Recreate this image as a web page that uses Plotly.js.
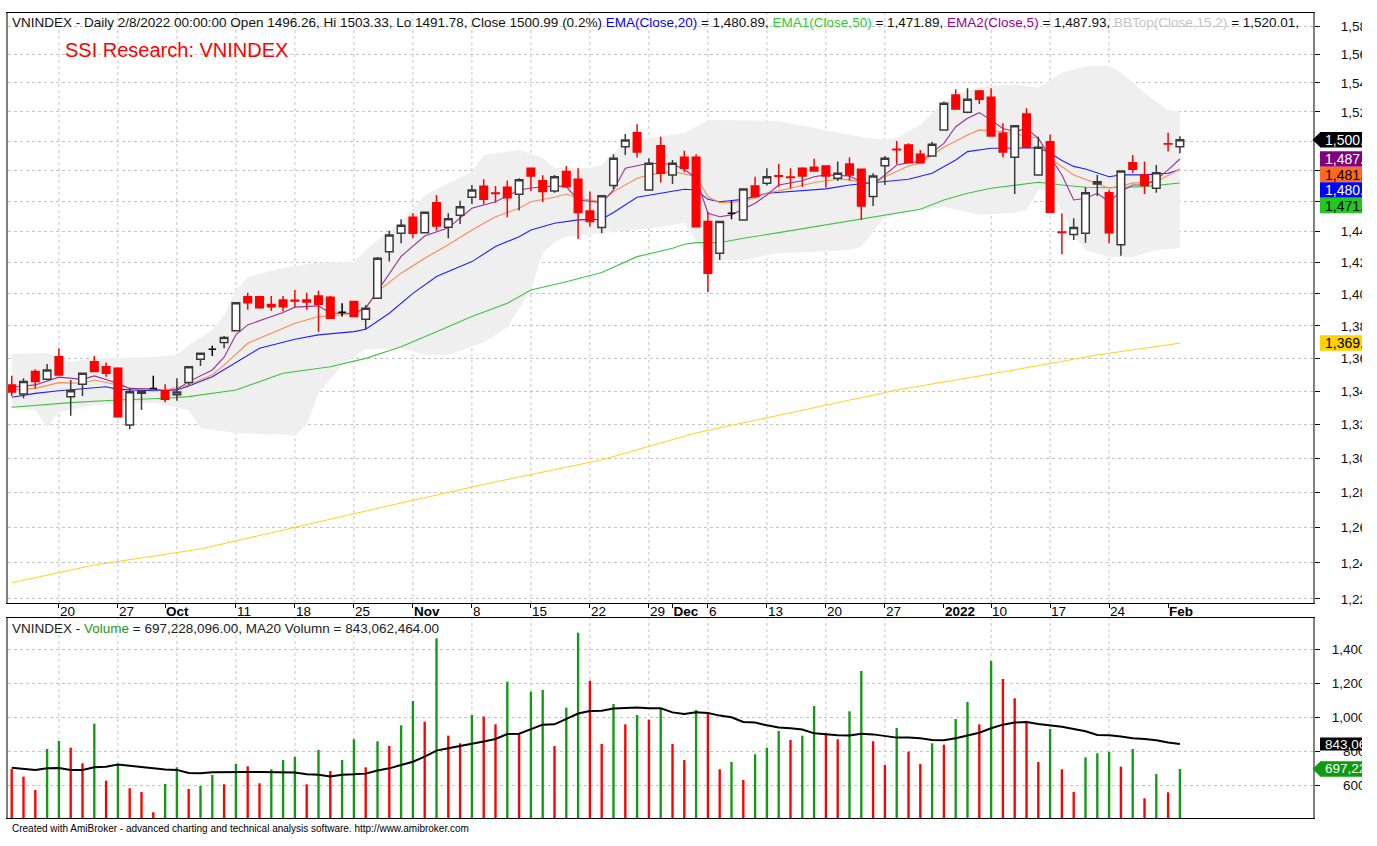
<!DOCTYPE html>
<html>
<head>
<meta charset="utf-8">
<script src="https://cdn.plot.ly/plotly-3.0.1.min.js"></script>
<style>
html,body{margin:0;padding:0;background:#ffffff;}
#chart{width:1362px;height:846px;}
</style>
</head>
<body>
<div id="chart"></div>
<script>
// ---------------- DATA ----------------
const dates = [
'2021-09-14','2021-09-15','2021-09-16','2021-09-17','2021-09-20','2021-09-21','2021-09-22','2021-09-23','2021-09-24','2021-09-27',
'2021-09-28','2021-09-29','2021-09-30','2021-10-01','2021-10-04','2021-10-05','2021-10-06','2021-10-07','2021-10-08','2021-10-11',
'2021-10-12','2021-10-13','2021-10-14','2021-10-15','2021-10-18','2021-10-19','2021-10-20','2021-10-21','2021-10-22','2021-10-25',
'2021-10-26','2021-10-27','2021-10-28','2021-10-29','2021-11-01','2021-11-02','2021-11-03','2021-11-04','2021-11-05','2021-11-08',
'2021-11-09','2021-11-10','2021-11-11','2021-11-12','2021-11-15','2021-11-16','2021-11-17','2021-11-18','2021-11-19','2021-11-22',
'2021-11-23','2021-11-24','2021-11-25','2021-11-26','2021-11-29','2021-11-30','2021-12-01','2021-12-02','2021-12-03','2021-12-06',
'2021-12-07','2021-12-08','2021-12-09','2021-12-10','2021-12-13','2021-12-14','2021-12-15','2021-12-16','2021-12-17','2021-12-20',
'2021-12-21','2021-12-22','2021-12-23','2021-12-24','2021-12-27','2021-12-28','2021-12-29','2021-12-30','2021-12-31','2022-01-04',
'2022-01-05','2022-01-06','2022-01-07','2022-01-10','2022-01-11','2022-01-12','2022-01-13','2022-01-14','2022-01-17','2022-01-18',
'2022-01-19','2022-01-20','2022-01-21','2022-01-24','2022-01-25','2022-01-26','2022-01-27','2022-01-28','2022-02-07','2022-02-08'
];

const open = [
1343.7,1338.2,1351.8,1347.1,1360.9,1336.6,1344.1,1357.9,1354.8,1353.8,
1319.6,1338.6,1341.6,1340.2,1337.8,1345.1,1359.3,1365.5,1369.6,1377.0,
1398.3,1398.3,1393.3,1396.2,1396.0,1396.2,1398.7,1397.9,1388.5,1395.2,
1384.1,1397.3,1427.0,1438.9,1449.4,1439.3,1458.9,1442.8,1450.7,1462.5,
1469.8,1465.3,1469.1,1464.4,1481.7,1473.4,1466.6,1479.5,1474.4,1453.5,
1442.6,1470.2,1496.2,1505.7,1467.3,1496.9,1477.3,1489.1,1489.1,1446.5,
1426.0,1452.0,1447.6,1470.0,1471.8,1476.8,1475.9,1481.7,1482.4,1483.3,
1475.1,1484.6,1481.1,1462.9,1483.5,1494.5,1497.4,1491.1,1490.0,1507.6,
1531.6,1519.7,1534.3,1530.0,1505.3,1489.1,1518.5,1477.3,1499.6,1439.7,
1438.1,1438.9,1471.3,1465.5,1431.4,1485.5,1477.3,1468.4,1498.3,1496.26
];
const high = [
1349.2,1347.7,1353.2,1356.5,1365.9,1346.7,1350.8,1361.4,1357.3,1354.5,
1341.6,1340.2,1349.2,1344.1,1347.7,1354.8,1363.0,1367.6,1373.7,1395.0,
1400.8,1398.5,1398.7,1398.7,1402.5,1400.8,1402.1,1398.7,1394.2,1395.5,
1393.1,1423.5,1440.6,1448.0,1452.0,1453.0,1464.0,1452.0,1460.2,1470.6,
1474.4,1470.0,1473.5,1475.1,1482.0,1477.1,1477.2,1483.3,1481.7,1466.2,
1463.7,1491.1,1504.8,1511.5,1488.5,1503.0,1487.3,1493.5,1491.1,1453.0,
1446.7,1460.0,1468.3,1476.1,1481.7,1484.6,1481.7,1482.4,1488.1,1483.5,
1486.2,1489.1,1481.3,1478.4,1490.0,1500.1,1498.5,1494.0,1499.6,1527.0,
1535.5,1536.2,1535.0,1536.2,1512.2,1510.7,1522.4,1503.0,1504.5,1452.0,
1448.7,1469.1,1477.3,1467.3,1480.0,1490.7,1486.2,1483.9,1505.7,1503.33
];
const low = [
1337.0,1335.6,1341.6,1346.7,1349.2,1325.2,1337.0,1351.4,1348.7,1324.0,
1317.1,1328.6,1341.4,1333.2,1334.1,1343.7,1355.3,1361.4,1366.1,1376.5,
1390.0,1391.0,1389.5,1388.9,1391.7,1390.0,1376.4,1384.5,1385.8,1385.5,
1377.9,1397.0,1420.6,1432.4,1435.7,1438.9,1440.6,1435.7,1445.0,1458.0,
1457.8,1458.9,1449.4,1453.7,1466.6,1459.3,1465.5,1469.1,1435.2,1443.2,
1438.9,1467.8,1490.7,1488.9,1467.0,1472.2,1471.3,1479.0,1443.0,1401.1,
1421.7,1448.0,1447.3,1461.8,1470.2,1469.5,1468.4,1469.5,1479.7,1468.8,
1473.3,1473.6,1447.6,1456.7,1470.6,1484.6,1485.1,1485.3,1489.5,1507.1,
1521.7,1519.0,1525.4,1503.3,1489.1,1464.6,1495.2,1477.0,1452.4,1425.4,
1434.6,1432.8,1463.3,1432.4,1424.3,1478.8,1464.6,1465.5,1493.0,1491.78
];
const close = [
1339.4,1345.7,1345.7,1352.8,1349.8,1340.2,1350.8,1351.8,1350.8,1324.6,
1339.6,1340.0,1341.6,1335.0,1339.4,1354.8,1363.0,1365.5,1372.7,1394.5,
1394.5,1391.4,1392.0,1392.0,1395.6,1395.0,1393.5,1384.8,1388.5,1385.8,
1391.0,1422.8,1437.8,1444.1,1438.9,1452.6,1443.7,1448.4,1456.3,1467.3,
1461.1,1465.0,1462.2,1474.0,1476.6,1466.2,1476.1,1469.5,1452.4,1446.5,
1463.5,1488.5,1500.8,1492.6,1485.1,1478.4,1485.1,1481.7,1443.2,1413.2,
1446.5,1452.0,1468.0,1462.9,1476.1,1476.4,1475.5,1476.6,1479.9,1476.6,
1478.4,1477.3,1456.7,1476.6,1488.5,1494.2,1485.5,1485.5,1497.8,1525.9,
1521.9,1528.6,1528.6,1503.5,1492.6,1510.5,1495.8,1495.8,1452.6,1439.4,
1442.6,1465.5,1472.8,1439.3,1479.9,1481.1,1470.2,1478.8,1498.0,1500.99
];

// Volume in millions of shares
const vol = [
697.4,652.5,574.5,814.6,861.4,822.4,730.6,962.9,629.1,726.7,
584.2,562.8,443.7,609.6,707.2,580.3,597.9,662.3,607.6,726.7,
713.0,613.5,695.5,750.1,767.7,607.6,808.7,685.7,750.1,871.2,
707.2,859.5,832.1,953.2,1095.6,974.6,1462.6,892.6,847.7,1013.7,
1005.0,959.0,1208.9,906.3,1150.3,1160.1,832.1,1056.6,1495.8,1214.7,
843.8,1078.1,959.0,1013.7,986.3,1052.7,843.8,750.1,1042.9,1023.4,
695.5,738.4,633.0,783.3,822.4,920.0,867.3,892.6,1066.4,906.3,
871.2,1035.1,1271.3,859.5,720.9,937.5,798.9,726.7,847.7,840.0,
990.2,1089.8,959.0,1329.9,1224.5,1111.3,978.5,738.4,931.7,695.5,
562.8,765.8,789.2,797.0,711.1,814.6,525.7,668.2,560.8,697.228096
];
const volMA20 = [
705,697,692,701,703,692,692,707,711,723,
717,711,701,694,692,674,672,678,680,680,
680,680,680,680,676,666,664,653,664,666,
670,688,701,721,740,770,805,819,832,842,
858,873,902,904,930,957,959,990,1022,1037,
1039,1051,1053,1057,1053,1053,1029,1020,1029,1025,
1010,1000,973,969,953,940,936,928,906,900,
895,893,904,900,889,881,881,877,867,865,
877,893,910,936,957,969,973,961,955,945,
932,918,897,895,887,877,873,865,852,843.062464
];

// Moving averages (bar index -> value)
const ema5Bar = [0,2,4,6,7,9,10,12,13,14,15,17,18,19,20,22,23,24,26,27,29,30,31,33,35,37,39,41,43,44,46,47,48,50,51,52,54,56,57,58,59,60,61,63,64,65,67,68,69,71,72,73,74,75,76,77,79,80,81,82,83,84,85,86,87,88,89,90,91,92,93,94,95,96,97,98,99];
const ema5Val = [1342.3,1343.7,1348.4,1347.1,1349.2,1344.7,1341.6,1341.2,1340.2,1341.0,1345.7,1352.8,1360.6,1374.4,1380.6,1385.8,1388.3,1391.7,1392.5,1387.9,1387.9,1391.0,1402.0,1424.0,1437.1,1442.4,1455.2,1459.5,1467.3,1468.6,1470.0,1469.5,1460.7,1458.9,1467.3,1481.7,1485.1,1484.4,1481.1,1475.1,1452.0,1449.7,1450.9,1458.5,1464.0,1470.6,1473.4,1476.1,1477.3,1476.6,1472.8,1471.3,1477.3,1483.9,1485.5,1486.1,1498.5,1509.8,1515.5,1519.4,1514.3,1508.6,1506.4,1508.6,1501.9,1489.6,1477.3,1460.7,1461.8,1465.1,1459.5,1466.2,1470.6,1470.6,1474.0,1480.6,1487.93];

const ema10Bar = [0,2,4,6,7,9,10,13,15,17,18,20,22,24,26,27,29,30,31,33,35,37,39,41,43,44,46,47,48,50,51,53,54,56,57,58,59,60,62,64,66,68,70,71,73,74,76,77,79,81,82,84,85,87,88,90,91,93,94,95,97,99];
const ema10Val = [1340.6,1341.6,1345.1,1344.7,1346.7,1343.7,1341.6,1340.6,1343.7,1349.8,1355.8,1369.2,1375.4,1381.6,1385.8,1386.2,1387.9,1391.5,1401.5,1413.2,1422.8,1431.4,1441.0,1449.7,1455.2,1459.5,1462.5,1464.6,1461.8,1459.5,1466.2,1475.1,1477.3,1479.5,1477.9,1476.1,1462.9,1458.9,1459.5,1465.1,1468.4,1472.2,1474.4,1474.0,1471.3,1476.1,1483.3,1485.1,1495.8,1504.2,1507.6,1506.4,1504.8,1501.9,1488.5,1477.3,1474.4,1468.4,1470.0,1471.8,1472.8,1481.30];

const ema20Bar = [0,2,4,6,8,9,12,14,15,17,19,21,24,26,29,30,32,34,36,39,41,43,44,46,48,50,51,53,55,57,58,59,60,62,64,67,69,71,74,76,78,80,81,83,84,86,87,88,89,90,91,93,94,96,98,99];
const ema20Val = [1336.2,1338.6,1340.2,1341.2,1342.6,1341.0,1340.2,1340.6,1343.1,1348.7,1357.2,1366.1,1371.7,1374.4,1376.4,1377.9,1387.9,1400.4,1411.1,1420.6,1430.3,1436.7,1441.0,1445.4,1447.6,1448.0,1452.4,1462.5,1465.1,1467.8,1467.3,1461.1,1459.5,1461.1,1465.1,1466.8,1468.0,1470.6,1473.0,1474.4,1478.4,1487.3,1492.9,1495.2,1495.2,1495.2,1495.5,1492.0,1487.0,1483.0,1481.3,1476.1,1477.3,1477.3,1478.4,1480.89];

const ema50Bar = [0,5,9,13,15,19,23,27,30,33,36,39,42,44,47,50,53,56,57,58,60,62,65,68,71,72,75,77,79,81,83,85,87,89,91,93,96,99];
const ema50Val = [1330.2,1333.0,1334.6,1335.6,1336.6,1340.6,1350.8,1354.8,1359.9,1367.1,1376.4,1385.8,1394.1,1402.5,1407.8,1413.6,1423.8,1429.2,1431.8,1432.8,1432.8,1435.7,1439.3,1443.2,1446.9,1448.0,1452.0,1454.6,1460.7,1465.1,1468.4,1470.6,1472.4,1470.6,1469.1,1468.8,1469.5,1471.89];

const ma200Bar = [0,7,16,24,33,41,50,58,67,75,84,92,99];
const ma200Val = [1228.9,1238.8,1247.8,1260.2,1274.0,1286.2,1299.0,1314.9,1328.6,1340.6,1351.6,1362.0,1369.3];

const bbTopBar = [0,3,5,7,12,14,15,17,18,19,20,23,26,29,30,33,35,39,40,43,45,46,49,50,51,52,54,56,57,59,65,68,71,72,74,75,77,79,81,83,85,87,89,91,93,94,96,98,99];
const bbTopVal = [1362.6,1363.2,1357.6,1360.1,1360.7,1362.0,1368.2,1377.5,1386.8,1402.5,1410.8,1416.6,1419.8,1420.4,1428.2,1446.3,1464.0,1479.3,1490.7,1494.0,1488.6,1481.9,1481.9,1484.0,1492.0,1499.0,1502.0,1504.2,1505.5,1514.4,1513.7,1508.9,1504.2,1502.8,1500.8,1502.1,1511.0,1526.9,1535.2,1538.0,1538.7,1536.6,1547.1,1551.3,1552.0,1547.1,1533.0,1521.2,1520.01];
const bbBotBar = [0,2,3,4,7,12,15,16,19,23,24,25,26,28,29,30,33,35,37,40,42,44,45,46,47,50,53,56,57,58,59,62,65,68,71,72,74,76,79,82,85,86,87,88,89,90,91,93,95,97,99];
const bbBotVal = [1329.8,1328.6,1318.0,1327.4,1331.6,1332.8,1328.6,1317.9,1314.9,1313.8,1313.2,1319.6,1338.8,1355.8,1361.0,1365.3,1366.6,1362.0,1362.0,1369.6,1379.3,1402.5,1426.2,1433.2,1436.5,1439.1,1441.0,1444.3,1445.6,1434.6,1421.7,1421.7,1426.2,1426.8,1428.1,1430.1,1449.5,1452.8,1456.1,1450.9,1452.2,1454.1,1467.3,1467.3,1454.1,1437.8,1428.1,1423.6,1423.6,1428.1,1429.4];

// Axis ticks
const tickBars = [4,9,13,19,24,29,34,39,44,49,54,56,59,64,69,74,79,83,88,93,98];
const tickText = ['20','27','Oct','11','18','25','Nov','8','15','22','29','Dec','6','13','20','27','2022','10','17','24','Feb'];
const gridBars = [4,9,14,19,24,29,34,39,44,49,54,59,64,69,74,83,88,93];
const priceTicks = [1220,1240,1260,1280,1300,1320,1340,1360,1380,1400,1420,1440,1460,1480,1500,1520,1540,1560,1580];
const volTicks = [600,800,1000,1200,1400];

// ---------------- CHART ----------------
const FONT = 'Liberation Sans, Arial, sans-serif';
const L = 8, T = 13, PW = 1305, PH = 805;           // plot area in px
const priceTopPx = 13, priceBotPx = 603, volTopPx = 618, volBotPx = 818;
const priceRange = [3.085555, 3.201205];              // log10
const volRange = [410, 1582];
const xRange = [-0.3136, 110.28];

const n = dates.length;
const X = i => dates[i];
const fmt2 = v => v.toLocaleString('en-US', {minimumFractionDigits: 2, maximumFractionDigits: 2});

const upI = [], dnI = [], djI = [];
for (let i = 0; i < n; i++) {
  if (close[i] > open[i]) upI.push(i); else if (close[i] < open[i]) dnI.push(i); else djI.push(i);
}
function candle(ids, lineColor, fill) {
  const st = {line: {color: lineColor, width: 1.5}, fillcolor: fill};
  return {
    type: 'candlestick', xaxis: 'x3', yaxis: 'y3',
    x: ids.map(X), open: ids.map(i => open[i]), high: ids.map(i => high[i]),
    low: ids.map(i => low[i]), close: ids.map(i => close[i]),
    increasing: st, decreasing: st, whiskerwidth: 0, hoverinfo: 'skip'
  };
}
function line(bars, vals, color, w) {
  return {type: 'scatter', mode: 'lines', xaxis: 'x', yaxis: 'y',
    x: bars.map(X), y: vals, line: {color: color, width: w}, hoverinfo: 'skip'};
}

const band = {
  type: 'scatter', mode: 'lines', xaxis: 'x', yaxis: 'y',
  x: bbTopBar.map(X).concat(bbBotBar.slice().reverse().map(X)),
  y: bbTopVal.concat(bbBotVal.slice().reverse()),
  fill: 'toself', fillcolor: '#efefef', line: {width: 0, color: 'rgba(0,0,0,0)'}, hoverinfo: 'skip'
};

const volColors = vol.map((v, i) => (i > 0 && v > vol[i - 1]) ? '#139a13' : '#ff0000');

const traces = [
  band,
  line(ma200Bar, ma200Val, '#ffd21a', 1),
  line(ema50Bar, ema50Val, '#3fc43f', 1.1),
  line(ema20Bar, ema20Val, '#2020ff', 1.1),
  line(ema10Bar, ema10Val, '#ff8a50', 1.1),
  line(ema5Bar, ema5Val, '#993399', 1.1),
  candle(upI, '#3a3a3a', '#ffffff'),
  candle(dnI, '#ff0000', '#ff0000'),
  candle(djI, '#000000', '#000000'),
  {type: 'bar', xaxis: 'x2', yaxis: 'y2', x: dates, y: vol, width: 0.2,
   marker: {color: volColors, line: {width: 0}}, hoverinfo: 'skip'},
  {type: 'scatter', mode: 'lines', xaxis: 'x2', yaxis: 'y2', x: dates, y: volMA20,
   line: {color: '#000000', width: 2}, hoverinfo: 'skip'}
];

// helpers for pixel -> paper conversion
const paperX = px => (px - L) / PW;
const paperY = py => (T + PH - py) / PH;
const pricePix = v => priceTopPx + (priceRange[1] - Math.log10(v)) / (priceRange[1] - priceRange[0]) * (priceBotPx - priceTopPx);
const volPix = v => volTopPx + (volRange[1] - v) / (volRange[1] - volRange[0]) * (volBotPx - volTopPx);

const shapes = [];
gridBars.forEach(i => {
  shapes.push({type: 'line', xref: 'x', yref: 'y domain', x0: X(i), x1: X(i), y0: 0, y1: 1,
    line: {color: '#c4c4c4', width: 1, dash: 'dot'}, layer: 'below'});
  shapes.push({type: 'line', xref: 'x2', yref: 'y2 domain', x0: X(i), x1: X(i), y0: 0, y1: 1,
    line: {color: '#c4c4c4', width: 1, dash: 'dot'}, layer: 'below'});
});

const annotations = [];
const priceBadgeSpans = [];
function badge(pix, h, text, bg, fg, arrow, size) {
  const y0 = paperY(pix + h / 2), y1 = paperY(pix - h / 2);
  shapes.push({type: 'rect', xref: 'paper', yref: 'paper', x0: paperX(1320), x1: paperX(1362),
    y0: y0, y1: y1, fillcolor: bg, line: {width: 0}, layer: 'above'});
  if (arrow) {
    const xa = paperX(1312.5), xb = paperX(1320.5);
    shapes.push({type: 'path', xref: 'paper', yref: 'paper',
      path: `M ${xa},${paperY(pix)} L ${xb},${y1} L ${xb},${y0} Z`,
      fillcolor: bg, line: {width: 0}, layer: 'above'});
  }
  annotations.push({xref: 'paper', yref: 'paper', x: paperX(1323.5), y: paperY(pix), xanchor: 'left', yanchor: 'middle',
    text: text, showarrow: false, font: {family: FONT, size: size, color: fg}, borderpad: 0});
}

// price badges (stacked to avoid overlap)
const last = n - 1;
const pb = [
  {v: close[last], bg: '#000000', fg: '#ffffff', arrow: true},
  {v: ema5Val[ema5Val.length - 1], bg: '#800080', fg: '#ffffff'},
  {v: ema10Val[ema10Val.length - 1], bg: '#ff6a1c', fg: '#000000'},
  {v: ema20Val[ema20Val.length - 1], bg: '#0000ff', fg: '#ffffff'},
  {v: ema50Val[ema50Val.length - 1], bg: '#20c820', fg: '#000000'},
  {v: ma200Val[ma200Val.length - 1], bg: '#ffd200', fg: '#000000'}
].sort((a, b) => b.v - a.v);
let prev = -1e9;
const BH = 15.5;
pb.forEach(b => {
  let p = pricePix(b.v);
  if (p < prev + BH) p = prev + BH;
  prev = p;
  priceBadgeSpans.push([p - BH / 2, p + BH / 2]);
  badge(p, BH, fmt2(b.v), b.bg, b.fg, !!b.arrow, 14);
});
// volume badges
badge(volPix(volMA20[last]), 13, fmt2(volMA20[last] * 1e6), '#000000', '#ffffff', false, 13.5);
badge(volPix(vol[last]), 15.5, fmt2(vol[last] * 1e6), '#109a10', '#ffffff', true, 13.5);

// price tick labels that sit fully under a badge are not shown (as in the source chart)
const priceTickText = priceTicks.map(v => {
  const p = pricePix(v);
  const hidden = priceBadgeSpans.some(s => p >= s[0] && p <= s[1]);
  return hidden ? '' : v.toLocaleString('en-US');
});

// header texts
const hdr = 'VNINDEX - Daily 2/8/2022 00:00:00 Open ' + open[last].toFixed(2) + ', Hi ' + high[last].toFixed(2) +
  ', Lo ' + low[last].toFixed(2) + ', Close ' + close[last].toFixed(2) +
  ' (' + ((close[last] / close[last - 1] - 1) * 100).toFixed(1) + '%) ' +
  '<span style="color:#0000ff">EMA(Close,20)</span> = ' + fmt2(ema20Val[ema20Val.length - 1]) + ', ' +
  '<span style="color:#2ecc2e">EMA1(Close,50)</span> = ' + fmt2(ema50Val[ema50Val.length - 1]) + ', ' +
  '<span style="color:#990099">EMA2(Close,5)</span> = ' + fmt2(ema5Val[ema5Val.length - 1]) + ', ' +
  '<span style="color:#c4c4c4">BBTop(Close,15,2)</span> = ' + fmt2(bbTopVal[bbTopVal.length - 1]) + ',';
annotations.push({xref: 'paper', yref: 'paper', x: paperX(11), y: paperY(22), xanchor: 'left', yanchor: 'middle',
  text: hdr, showarrow: false, font: {family: FONT, size: 13.5, color: '#111111'}, borderpad: 0});
annotations.push({xref: 'paper', yref: 'paper', x: paperX(64), y: paperY(50), xanchor: 'left', yanchor: 'middle',
  text: 'SSI Research: VNINDEX', showarrow: false, font: {family: FONT, size: 20, color: '#ff0000'}, borderpad: 0});
const vhdr = 'VNINDEX - <span style="color:#1a9a1a">Volume</span> = ' + fmt2(vol[last] * 1e6) +
  ', MA20 Volumn = ' + fmt2(volMA20[last] * 1e6);
annotations.push({xref: 'paper', yref: 'paper', x: paperX(11), y: paperY(628), xanchor: 'left', yanchor: 'middle',
  text: vhdr, showarrow: false, font: {family: FONT, size: 13.5, color: '#222222'}, borderpad: 0});
annotations.push({xref: 'paper', yref: 'paper', x: paperX(11), y: paperY(828), xanchor: 'left', yanchor: 'middle',
  text: 'Created with AmiBroker - advanced charting and technical analysis software. http://www.amibroker.com',
  showarrow: false, font: {family: FONT, size: 10, color: '#000000'}, borderpad: 0});

const bold = t => (isNaN(Number(t)) || t.length === 4) ? '<b>' + t + '</b>' : t;
const volTickText = volTicks.map(v => {
  const s = v.toLocaleString('en-US');
  return '\u00a0'.repeat(Math.max(0, 5 - s.length) * 1.5 | 0) + s;
});

const catAxisBase = {type: 'category', categoryorder: 'array', categoryarray: dates,
  range: xRange, autorange: false, fixedrange: true, zeroline: false};

const layout = {
  width: 1362, height: 846,
  margin: {l: L, r: 1362 - L - PW, t: T, b: 846 - T - PH, pad: 0},
  paper_bgcolor: '#ffffff', plot_bgcolor: '#ffffff',
  showlegend: false, hovermode: false, dragmode: false,
  font: {family: FONT, size: 13.5, color: '#000000'},
  boxgap: 0.2, boxgroupgap: 0.2,
  xaxis: Object.assign({}, catAxisBase, {
    domain: [0, 1], anchor: 'y',
    tickmode: 'array', tickvals: tickBars.map(X), ticktext: tickText.map(bold), tickangle: 0,
    ticks: 'outside', ticklen: 4, tickcolor: '#000000', ticklabelposition: 'outside right',
    ticklabelstandoff: -4,
    tickfont: {family: FONT, size: 13.5, color: '#000000'},
    showgrid: false, showline: true, linecolor: '#000000', linewidth: 1, mirror: true,
    rangeslider: {visible: false}
  }),
  yaxis: {
    type: 'log', domain: [(T + PH - priceBotPx) / PH, 1],
    range: priceRange, autorange: false, side: 'right', anchor: 'x',
    tickmode: 'array', tickvals: priceTicks, ticktext: priceTickText,
    ticks: 'outside', ticklen: 5, tickcolor: '#000000', ticklabelstandoff: 18,
    tickfont: {family: FONT, size: 13.5, color: '#111111'},
    showgrid: true, gridcolor: '#c4c4c4', griddash: 'dot', gridwidth: 1,
    zeroline: false, showline: true, linecolor: '#808080', linewidth: 2, mirror: true, fixedrange: true
  },
  xaxis3: Object.assign({}, catAxisBase, {
    overlaying: 'x', matches: 'x', anchor: 'y3', visible: false, showgrid: false,
    rangeslider: {visible: false}
  }),
  yaxis3: {
    type: 'log', overlaying: 'y', range: priceRange, autorange: false, side: 'right', anchor: 'x3',
    visible: false, showgrid: false, zeroline: false, fixedrange: true
  },
  xaxis2: Object.assign({}, catAxisBase, {
    domain: [0, 1], anchor: 'y2', matches: 'x',
    showticklabels: false, ticks: '', showgrid: false,
    showline: true, linecolor: '#000000', linewidth: 1, mirror: true
  }),
  yaxis2: {
    domain: [0, (volBotPx - volTopPx) / PH], range: volRange, autorange: false, side: 'right', anchor: 'x2',
    tickmode: 'array', tickvals: volTicks, ticktext: volTickText,
    ticks: 'outside', ticklen: 5, tickcolor: '#000000', ticklabelstandoff: 9,
    tickfont: {family: FONT, size: 13.5, color: '#111111'},
    showgrid: true, gridcolor: '#c4c4c4', griddash: 'dot', gridwidth: 1,
    zeroline: false, showline: true, linecolor: '#808080', linewidth: 2, mirror: true, fixedrange: true
  },
  shapes: shapes,
  annotations: annotations
};

Plotly.newPlot('chart', traces, layout, {staticPlot: true, displayModeBar: false, responsive: false});
</script>
</body>
</html>
